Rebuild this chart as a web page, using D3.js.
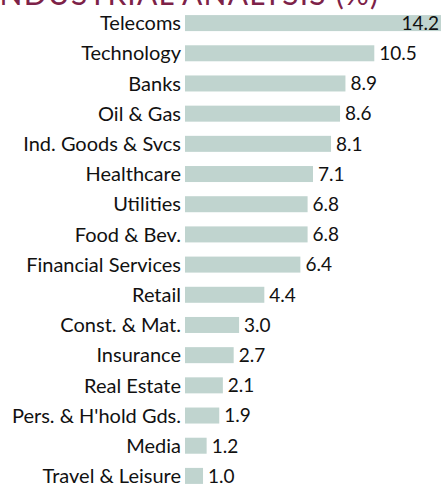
<!DOCTYPE html>
<html><head><meta charset="utf-8">
<script src="https://cdn.jsdelivr.net/npm/d3@7"></script>
<style>body{margin:0;background:#fff;}svg{display:block;}</style>
</head><body>
<svg id="c" width="442" height="486"></svg>
<script>
const categories = ["Telecoms","Technology","Banks","Oil & Gas","Ind. Goods & Svcs","Healthcare","Utilities","Food & Bev.","Financial Services","Retail","Const. & Mat.","Insurance","Real Estate","Pers. & H'hold Gds.","Media","Travel & Leisure"];
const values = [14.2,10.5,8.9,8.6,8.1,7.1,6.8,6.8,6.4,4.4,3.0,2.7,2.1,1.9,1.2,1.0];
const valueLabels = ["14.2","10.5","8.9","8.6","8.1","7.1","6.8","6.8","6.4","4.4","3.0","2.7","2.1","1.9","1.2","1.0"];
const title = "INDUSTRIAL ANALYSIS (%)";

const svg = d3.select("#c");
const font = "Lato, 'Open Sans', sans-serif";
const x = d3.scaleLinear().domain([0, 14.2]).range([185, 441]);
const y = d3.scaleBand().domain(categories).range([8, 491]).paddingInner(0.47).paddingOuter(0.235);

svg.append("text").attr("x", -10).attr("y", 5).attr("fill", "#7d2248")
  .attr("font-family", font).attr("font-size", 30).attr("letter-spacing", 1.2).text(title);

const rows = svg.selectAll("g.row").data(categories).enter().append("g");
rows.append("rect").attr("x", x(0)).attr("y", d => y(d)).attr("height", y.bandwidth())
  .attr("width", (d,i) => x(values[i]) - x(0)).attr("fill", "#c0d4cf");
rows.append("text").attr("x", 181).attr("y", d => y(d) + y.bandwidth()/2).attr("dy", "0.36em")
  .attr("text-anchor", "end").attr("font-family", font).attr("font-size", 20).attr("fill", "#111")
  .text(d => d);
rows.append("text")
  .attr("x", (d,i) => x(values[i]) + 5 > 410 ? 439 : x(values[i]) + 5)
  .attr("text-anchor", (d,i) => x(values[i]) + 5 > 410 ? "end" : "start")
  .attr("y", d => y(d) + y.bandwidth()/2).attr("dy", "0.36em")
  .attr("font-family", font).attr("font-size", 19).attr("fill", "#111")
  .text((d,i) => valueLabels[i]);
</script>
</body></html>
